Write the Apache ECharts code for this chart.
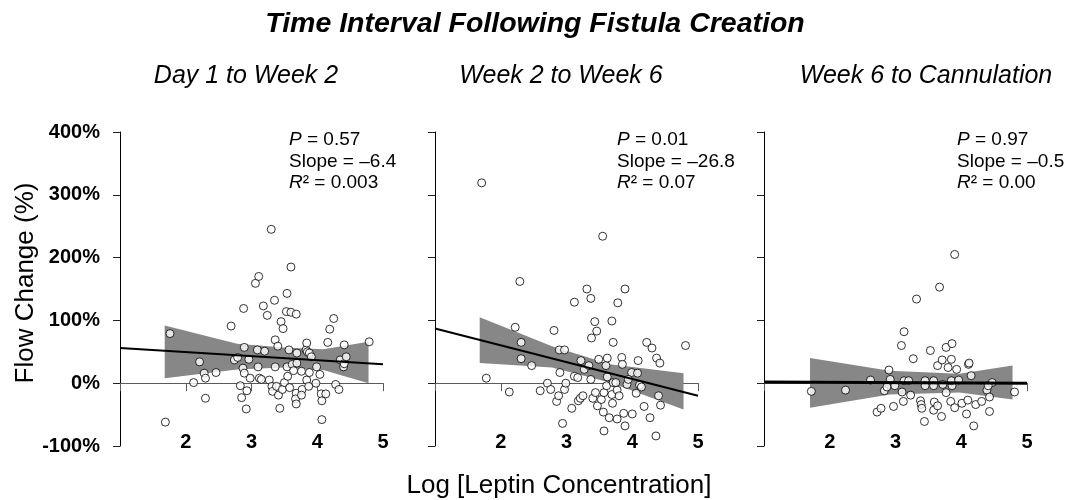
<!DOCTYPE html>
<html><head><meta charset="utf-8">
<script src="https://cdn.jsdelivr.net/npm/echarts@6/dist/echarts.min.js"></script>
<style>html,body{margin:0;padding:0;background:#fff}#c{width:1070px;height:500px}</style>
</head><body><div id="c"></div>
<script>
const FONT = '"Liberation Sans", Arial, Helvetica, sans-serif';

const mainTitle = 'Time Interval Following Fistula Creation';
const panelTitles = ['Day 1 to Week 2', 'Week 2 to Week 6', 'Week 6 to Cannulation'];
const xAxisTitle = 'Log [Leptin Concentration]';
const yAxisTitle = 'Flow Change (%)';
const pValues = ['0.57', '0.01', '0.97'];
const slopeValues = ['\u20136.4', '\u201326.8', '\u20130.5'];
const r2Values = ['0.003', '0.07', '0.00'];

const xMin = 1, xMax = 5, xStep = 1;
const yMin = -100, yMax = 400, yStep = 100;

const points1 = [[1.76,79],[1.69,-62],[2.12,1],[2.21,34],[2.28,16],[2.30,8],[2.30,-24],[2.46,17],[2.69,91],[2.74,37],[2.79,41],[2.88,119],[2.89,57],[2.87,24],[2.89,16],[2.83,-4],[2.85,-23],[2.93,-12],[2.92,-41],[2.96,38],[2.98,8],[3.06,159],[3.11,170],[3.09,53],[3.10,26],[3.12,8],[3.18,123],[3.20,51],[3.15,6],[3.24,108],[3.30,245],[3.27,5],[3.31,-5],[3.32,-13],[3.35,132],[3.36,69],[3.36,26],[3.40,59],[3.38,-5],[3.41,-19],[3.43,-40],[3.45,98],[3.48,87],[3.47,-10],[3.50,1],[3.54,143],[3.53,114],[3.57,53],[3.54,26],[3.55,11],[3.58,-7],[3.60,185],[3.60,113],[3.68,110],[3.62,30],[3.64,20],[3.69,48],[3.69,32],[3.68,-16],[3.67,-25],[3.68,-33],[3.76,19],[3.77,-10],[3.76,-19],[3.83,53],[3.85,50],[3.84,64],[3.84,5],[3.87,-5],[3.88,48],[3.88,17],[3.91,42],[3.98,0],[3.99,26],[4.04,14],[4.06,-17],[4.07,-28],[4.07,-58],[4.13,-17],[4.16,65],[4.19,86],[4.25,103],[4.28,-2],[4.33,-10],[4.35,37],[4.40,26],[4.41,61],[4.41,31],[4.44,42],[4.79,66]];
const points2 = [[1.71,319],[1.78,8],[2.13,-14],[2.22,89],[2.29,162],[2.31,65],[2.31,39],[2.47,28],[2.60,-12],[2.71,0],[2.76,-10],[2.81,84],[2.85,-29],[2.88,-20],[2.89,53],[2.90,17],[2.94,-64],[2.97,53],[2.97,-10],[2.99,0],[3.08,-40],[3.12,129],[3.12,11],[3.17,9],[3.18,-28],[3.21,-24],[3.25,-20],[3.22,36],[3.27,22],[3.31,150],[3.37,135],[3.38,72],[3.34,28],[3.37,6],[3.40,-24],[3.44,-15],[3.43,98],[3.46,83],[3.49,38],[3.47,-36],[3.53,-26],[3.55,234],[3.57,-15],[3.56,-46],[3.57,-76],[3.60,28],[3.62,40],[3.62,10],[3.61,-4],[3.65,-55],[3.69,99],[3.71,65],[3.70,-32],[3.69,-18],[3.71,1],[3.78,128],[3.77,-57],[3.77,-11],[3.80,-20],[3.84,41],[3.85,30],[3.89,150],[3.89,-68],[3.87,-48],[3.92,-2],[4.00,-49],[3.99,17],[4.09,36],[4.08,16],[4.06,-16],[4.11,-3],[4.14,-6],[4.18,-37],[4.22,65],[4.27,-55],[4.30,56],[4.36,-84],[4.37,40],[4.42,32],[4.40,-20],[4.43,-35],[4.81,60],[3.75,1],[3.94,6]];
const points3 = [[1.72,-13],[2.24,-11],[2.62,5],[2.72,-46],[2.78,-40],[2.83,-12],[2.87,-6],[2.90,21],[2.92,6],[2.97,-37],[2.99,-4],[3.09,60],[3.10,-14],[3.13,82],[3.12,-29],[3.13,4],[3.20,4],[3.23,-19],[3.27,39],[3.32,134],[3.38,-28],[3.39,-34],[3.40,-40],[3.44,-61],[3.45,4],[3.45,-4],[3.53,52],[3.58,4],[3.59,-30],[3.58,-43],[3.58,-4],[3.64,28],[3.64,-36],[3.67,153],[3.71,37],[3.70,-53],[3.72,-2],[3.77,57],[3.77,-15],[3.80,25],[3.84,-29],[3.85,38],[3.86,63],[3.86,-4],[3.85,4],[3.90,205],[3.90,-39],[3.93,22],[3.96,5],[4.01,-32],[4.08,-49],[4.10,-27],[4.11,30],[4.15,12],[4.19,-68],[4.22,-34],[4.31,-29],[4.39,-11],[4.43,-22],[4.43,-45],[4.47,1],[4.81,-14],[4.41,-4],[4.12,32]];

const fitLine1 = [[1,56],[5,30]];
const fitLine2 = [[1,87],[5,-20]];
const fitLine3 = [[1,2],[5,0]];

// [x, upper, lower]
const band1 = [[1.68,92,8],[2.78,63,22],[3.49,57,25],[4.09,54,21],[4.78,66,0]];
const band2 = [[1.68,105,32],[2.78,59,25],[3.66,30,1],[4.78,16,-42]];
const band3 = [[1.70,40,-39],[2.91,20,-18],[3.97,15,-15],[4.78,28,-26]];

const allPoints = [points1, points2, points3];
const allFits = [fitLine1, fitLine2, fitLine3];
const allBands = [band1, band2, band3];

// layout
const gridLefts = [120, 435, 764];
const gridWidth = 263, gridTop = 132, gridHeight = 314;
const subtitleCenters = [246, 561, 926];
const annotLefts = [289, 617, 957];

const grids = [], xAxes = [], yAxes = [], series = [], graphics = [];

function bandRender(band) {
  return function (params, api) {
    if (params.dataIndex !== 0) return;
    const upper = band.map(r => api.coord([r[0], r[1]]));
    const lower = band.map(r => api.coord([r[0], r[2]])).reverse();
    return {
      type: 'polygon',
      shape: { points: upper.concat(lower) },
      style: { fill: '#878787', stroke: null }
    };
  };
}

for (let k = 0; k < 3; k++) {
  grids.push({ left: gridLefts[k], top: gridTop, width: gridWidth, height: gridHeight, containLabel: false });
  xAxes.push({
    gridIndex: k, type: 'value', min: xMin, max: xMax, interval: xStep, position: 'bottom',
    axisLine: { show: false, onZero: false }, axisTick: { show: false }, splitLine: { show: false },
    axisLabel: { show: true, fontSize: 20, fontWeight: 'bold', color: '#000', fontFamily: FONT, margin: -4, verticalAlign: 'middle',
      showMinLabel: false, formatter: v => (v === xMin ? '' : String(v)) }
  });
  xAxes.push({
    gridIndex: k, type: 'value', min: xMin, max: xMax, interval: xStep, position: 'top',
    axisLine: { show: true, onZero: true, lineStyle: { color: '#5a5a5a', width: 1 } },
    axisTick: { show: true, inside: true, length: 8, lineStyle: { color: '#5a5a5a', width: 1 } },
    axisLabel: { show: false }, splitLine: { show: false }
  });
  yAxes.push({
    gridIndex: k, type: 'value', min: yMin, max: yMax, interval: yStep,
    axisLine: { show: true, onZero: false, lineStyle: { color: '#000', width: 1 } },
    axisTick: { show: true, length: 7, lineStyle: { color: '#222', width: 1 } },
    splitLine: { show: false },
    axisLabel: { show: k === 0, formatter: '{value}%', fontSize: 20, fontWeight: 'bold', color: '#000', fontFamily: FONT, margin: 20 }
  });
  series.push({
    type: 'custom', xAxisIndex: 2 * k, yAxisIndex: k, z: 1,
    renderItem: bandRender(allBands[k]), data: allBands[k], silent: true
  });
  series.push({
    type: 'scatter', xAxisIndex: 2 * k, yAxisIndex: k, z: 2, data: allPoints[k],
    symbol: 'circle', symbolSize: 8,
    itemStyle: { color: '#fff', borderColor: '#000', borderWidth: 1 }
  });
  series.push({
    type: 'line', xAxisIndex: 2 * k, yAxisIndex: k, z: 3, data: allFits[k],
    showSymbol: false, symbol: 'none',
    lineStyle: { color: '#000', width: k === 2 ? 3 : 2 }
  });
  graphics.push({
    type: 'text', x: subtitleCenters[k], y: 76,
    style: { text: panelTitles[k], fontSize: 25, fontStyle: 'italic', fontFamily: FONT, fill: '#000', align: 'center', verticalAlign: 'middle' }
  });
  const rich = { i: { fontStyle: 'italic', fontSize: 19, fontFamily: FONT, fill: '#000' } };
  const annot = ['{i|P} = ' + pValues[k], 'Slope = ' + slopeValues[k], '{i|R}\u00b2 = ' + r2Values[k]];
  const ys = [140, 162, 183];
  for (let j = 0; j < 3; j++) {
    graphics.push({
      type: 'text', x: annotLefts[k], y: ys[j],
      style: { text: annot[j], rich: rich, fontSize: 19, fontFamily: FONT, fill: '#000', align: 'left', verticalAlign: 'middle' }
    });
  }
}

graphics.push({
  type: 'text', x: 535, y: 24,
  style: { text: mainTitle, fontSize: 28.5, fontWeight: 'bold', fontStyle: 'italic', fontFamily: FONT, fill: '#000', align: 'center', verticalAlign: 'middle' }
});
graphics.push({
  type: 'text', x: 559, y: 486,
  style: { text: xAxisTitle, fontSize: 26, fontFamily: FONT, fill: '#000', align: 'center', verticalAlign: 'middle' }
});
graphics.push({
  type: 'text', x: 26, y: 283, rotation: Math.PI / 2,
  style: { text: yAxisTitle, fontSize: 26, fontFamily: FONT, fill: '#000', align: 'center', verticalAlign: 'middle' }
});

const chart = echarts.init(document.getElementById('c'), null, { renderer: 'canvas' });
chart.setOption({
  backgroundColor: '#fff',
  animation: false,
  textStyle: { fontFamily: FONT },
  grid: grids, xAxis: xAxes, yAxis: yAxes, series: series, graphic: graphics
});
</script></body></html>
